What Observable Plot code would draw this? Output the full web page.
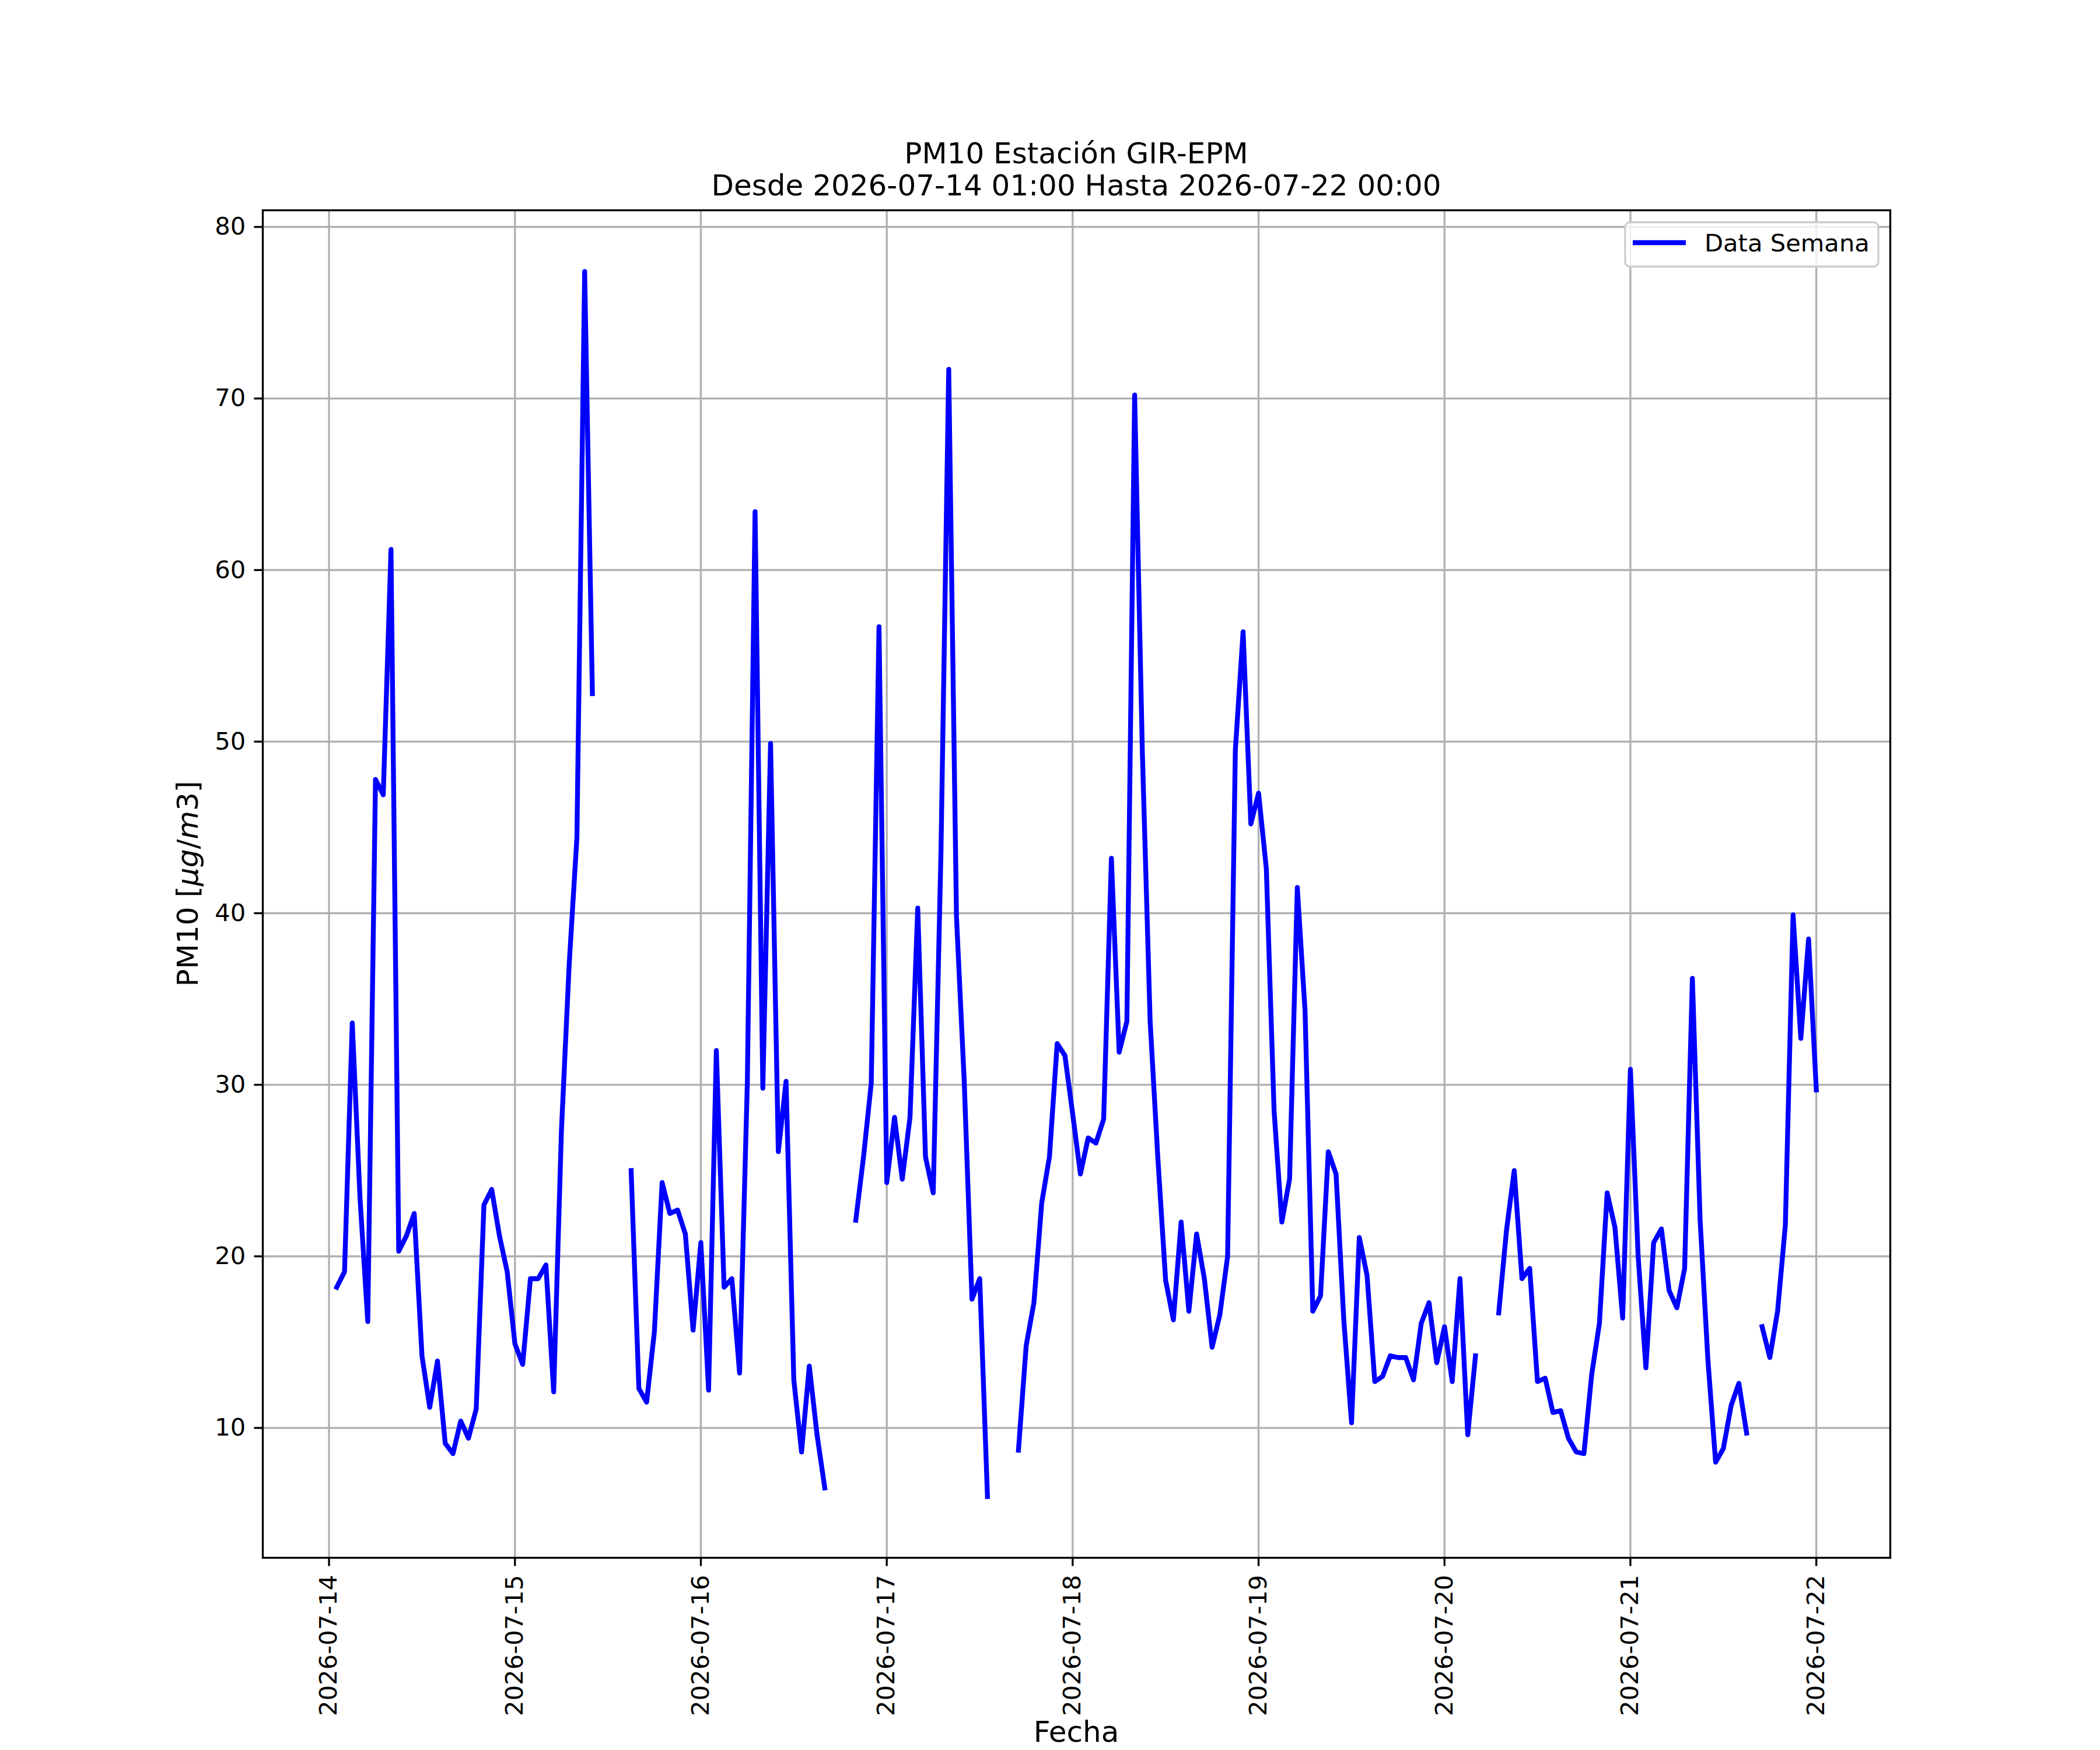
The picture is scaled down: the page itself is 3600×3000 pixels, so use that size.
<!DOCTYPE html>
<html>
<head>
<meta charset="utf-8">
<script src="https://cdn.jsdelivr.net/npm/d3@7"></script>
<script src="https://cdn.jsdelivr.net/npm/@observablehq/plot@0.6"></script>
<style>
  html, body { margin: 0; padding: 0; background: #ffffff; }
  #chart svg { display: block; }
</style>
</head>
<body>
<div id="chart"></div>
<script>
// ---------------- data ----------------
const startTime = "2026-07-14T01:00:00Z"; // first hourly reading
const pm10Day14 = [18.2, 19.1, 33.6, 23.4, 16.2, 47.8, 46.9, 61.2, 20.3, 21.2, 22.5, 14.2, 11.2, 13.9, 9.1, 8.5, 10.4, 9.4, 11.1, 23.0, 23.9, 21.2, 19.1, 14.9];
const pm10Day15 = [13.7, 18.7, 18.7, 19.5, 12.1, 27.3, 37.0, 44.4, 77.4, 52.8, null, null, null, null, 25.0, 12.3, 11.5, 15.6, 24.3, 22.5, 22.7, 21.3, 15.7, 20.8];
const pm10Day16 = [12.2, 32.0, 18.2, 18.7, 13.2, 30.1, 63.4, 29.8, 49.9, 26.1, 30.2, 12.8, 8.6, 13.6, 9.6, 6.5, null, null, null, 22.1, 25.8, 30.1, 56.7, 24.3];
const pm10Day17 = [28.1, 24.5, 28.1, 40.3, 25.8, 23.7, 43.6, 71.7, 39.8, 30.2, 17.5, 18.7, 6.0, null, null, null, 8.7, 14.8, 17.3, 23.1, 25.8, 32.4, 31.7, 28.3];
const pm10Day18 = [24.8, 26.9, 26.6, 28.0, 43.2, 31.9, 33.7, 70.2, 49.3, 33.7, 25.7, 18.6, 16.3, 22.0, 16.8, 21.3, 18.7, 14.7, 16.6, 20.0, 49.5, 56.4, 45.2, 47.0];
const pm10Day19 = [42.6, 28.5, 22.0, 24.5, 41.5, 34.3, 16.8, 17.7, 26.1, 24.8, 16.3, 10.3, 21.1, 18.9, 12.7, 13.0, 14.2, 14.1, 14.1, 12.8, 16.1, 17.3, 13.8, 15.9];
const pm10Day20 = [12.7, 18.7, 9.6, 14.2, null, null, 16.7, 21.5, 25.0, 18.7, 19.3, 12.7, 12.9, 10.9, 11.0, 9.4, 8.6, 8.5, 13.1, 16.1, 23.7, 21.7, 16.4, 30.9];
const pm10Day21 = [20.0, 13.5, 20.8, 21.6, 18.0, 17.0, 19.3, 36.2, 22.1, 14.0, 8.0, 8.8, 11.3, 12.6, 9.7, null, 15.9, 14.1, 16.8, 21.8, 39.9, 32.7, 38.5, 29.7];

const xTickLabels = ["2026-07-14", "2026-07-15", "2026-07-16", "2026-07-17", "2026-07-18", "2026-07-19", "2026-07-20", "2026-07-21", "2026-07-22"];
const yTicks = [10, 20, 30, 40, 50, 60, 70, 80];
const titleLines = ["PM10 Estación GIR-EPM", "Desde 2026-07-14 01:00 Hasta 2026-07-22 00:00"];
const xLabel = "Fecha";
const seriesName = "Data Semana";

// ---------------- build ----------------
const pm10 = [].concat(pm10Day14, pm10Day15, pm10Day16, pm10Day17, pm10Day18, pm10Day19, pm10Day20, pm10Day21);
const t0 = new Date(startTime);
const data = pm10.map((v, i) => ({t: d3.utcHour.offset(t0, i), v}));
const tMin = data[0].t, tMax = data[data.length - 1].t;
const tPad = (tMax - tMin) * 0.05;
const vals = pm10.filter(v => v != null);
const vMin = d3.min(vals), vMax = d3.max(vals), vPad = (vMax - vMin) * 0.05;
const xTicks = xTickLabels.map(s => new Date(s + "T00:00:00Z"));

const W = 3600, H = 3000, ML = 450, MR = 360, MT = 360, MB = 330;
const FONT = "DejaVu Sans";
const tickFS = 41.67, labelFS = 50;
const lw = 3.33;

const plot = Plot.plot({
  width: W,
  height: H,
  marginLeft: ML,
  marginRight: MR,
  marginTop: MT,
  marginBottom: MB,
  style: {fontFamily: FONT, fontSize: tickFS + "px", background: "#ffffff", color: "#000000"},
  x: {type: "utc", domain: [new Date(+tMin - tPad), new Date(+tMax + tPad)]},
  y: {domain: [vMin - vPad, vMax + vPad]},
  marks: [
    Plot.gridX(xTicks, {stroke: "#b0b0b0", strokeOpacity: 1, strokeWidth: lw}),
    Plot.gridY(yTicks, {stroke: "#b0b0b0", strokeOpacity: 1, strokeWidth: lw}),
    Plot.line(data, {x: "t", y: "v", stroke: "#0000ff", strokeWidth: 8.33, strokeLinejoin: "round", strokeLinecap: "square"}),
    Plot.frame({stroke: "#000000", strokeWidth: lw}),
    Plot.axisX(xTicks, {
      tickFormat: d3.utcFormat("%Y-%m-%d"), tickRotate: -90, tickSize: 14.6, tickPadding: 14.6,
      strokeWidth: lw, label: null, fontSize: tickFS, textAnchor: "end", lineAnchor: "middle"
    }),
    Plot.axisY(yTicks, {tickSize: 14.6, tickPadding: 14.6, strokeWidth: lw, label: null, fontSize: tickFS})
  ]
});
document.getElementById("chart").append(plot);

// ---------------- annotations ----------------
const svg = d3.select(plot);
const cx = ML + (W - ML - MR) / 2;
const cy = MT + (H - MT - MB) / 2;

const title = svg.append("text")
  .attr("text-anchor", "middle").attr("font-family", FONT).attr("font-size", labelFS).attr("fill", "#000");
title.append("tspan").attr("x", cx).attr("y", MT - 80).text(titleLines[0]);
title.append("tspan").attr("x", cx).attr("y", MT - 25).text(titleLines[1]);

svg.append("text")
  .attr("x", cx).attr("y", H - 14)
  .attr("text-anchor", "middle").attr("font-family", FONT).attr("font-size", labelFS).attr("fill", "#000")
  .text(xLabel);

const yl = svg.append("text")
  .attr("transform", `translate(339,${cy}) rotate(-90)`)
  .attr("text-anchor", "middle").attr("font-family", FONT).attr("font-size", labelFS).attr("fill", "#000");
yl.append("tspan").text("PM10 [");
yl.append("tspan").attr("font-style", "italic").text("μg");
yl.append("tspan").text("/");
yl.append("tspan").attr("font-style", "italic").text("m");
yl.append("tspan").text("3]");

// legend (upper right)
const lx = W - MR - 454, ly = MT + 21;
const lg = svg.append("g");
lg.append("rect").attr("x", lx).attr("y", ly).attr("width", 434).attr("height", 76).attr("rx", 8)
  .attr("fill", "#ffffff").attr("fill-opacity", 0.8).attr("stroke", "#cccccc").attr("stroke-width", lw);
lg.append("line").attr("x1", lx + 13).attr("x2", lx + 104).attr("y1", ly + 35).attr("y2", ly + 35)
  .attr("stroke", "#0000ff").attr("stroke-width", 8.33);
lg.append("text").attr("x", lx + 136).attr("y", ly + 50).attr("text-anchor", "start")
  .attr("font-family", FONT).attr("font-size", tickFS).attr("fill", "#000").text(seriesName);
</script>
</body>
</html>
